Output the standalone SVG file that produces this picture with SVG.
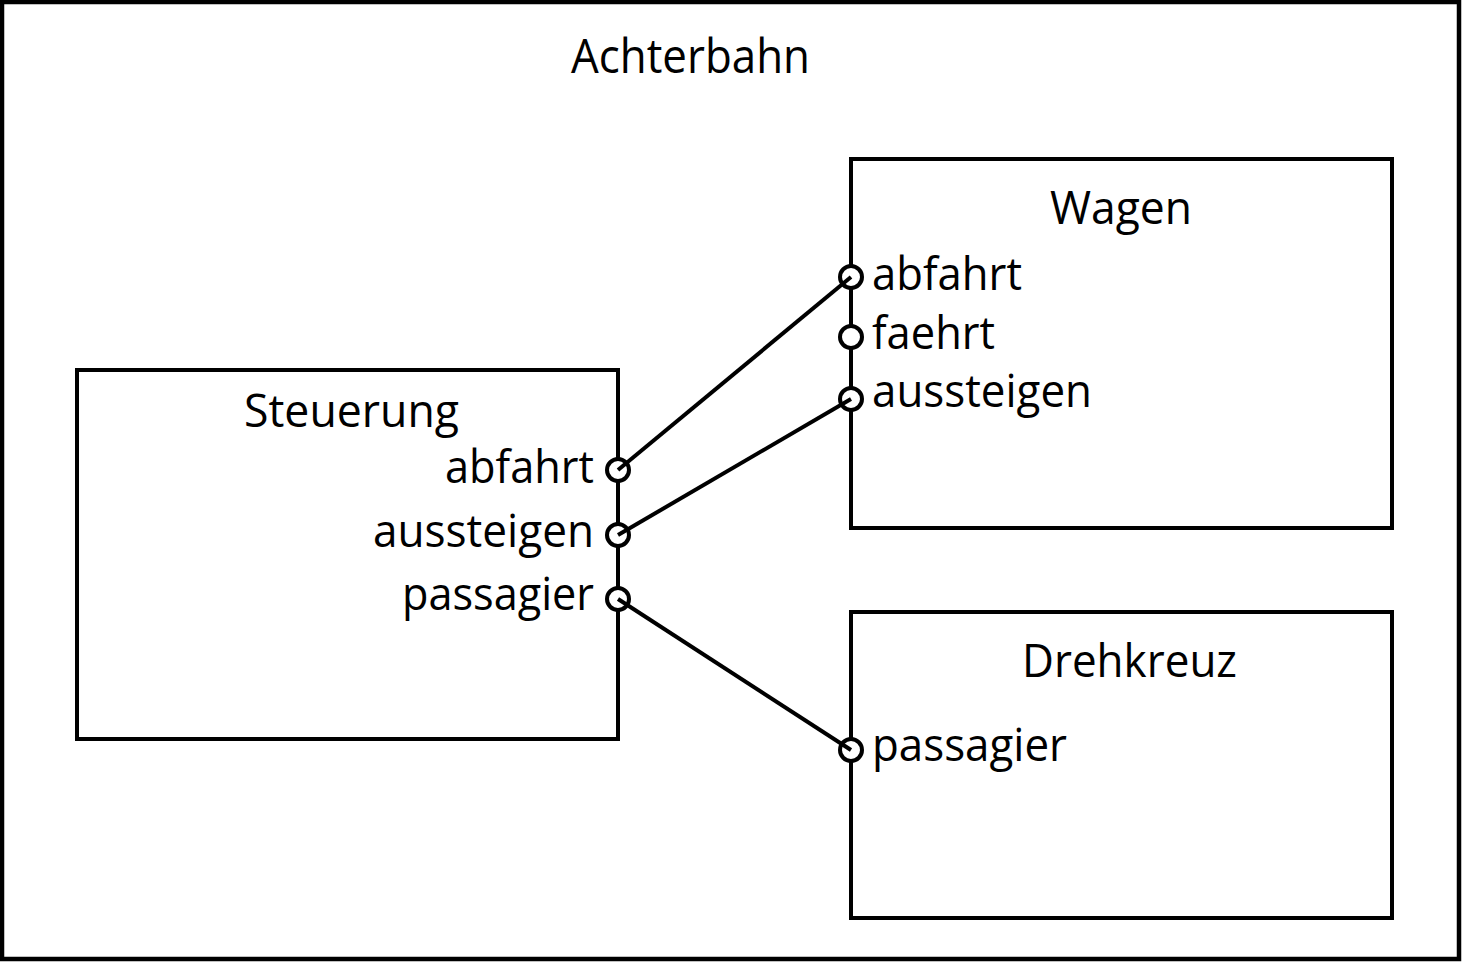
<svg xmlns="http://www.w3.org/2000/svg" width="1463" height="963" viewBox="0 0 1463 963">
<style>
.box{fill:#fff;stroke:#000;stroke-width:4}
.port{fill:#fff;stroke:#000;stroke-width:4}
.conn{stroke:#000;stroke-width:4;fill:none}
text{font-family:"Open Sans","Liberation Sans",sans-serif;font-size:45px;fill:#000}
</style>
<rect width="1463" height="963" fill="#fff"/>
<g id="achterbahn">
<rect x="2" y="2" width="1457" height="957" fill="none" stroke="#000" stroke-width="4.5"/>
<text x="571" y="73" textLength="239" lengthAdjust="spacingAndGlyphs" style="font-size:47px">Achterbahn</text>
</g>
<g id="steuerung">
<rect class="box" x="77" y="370" width="541" height="369"/>
<text x="244" y="427" textLength="215" lengthAdjust="spacingAndGlyphs">Steuerung</text>
<text x="445" y="483" textLength="149" lengthAdjust="spacingAndGlyphs">abfahrt</text>
<text x="373" y="547" textLength="221" lengthAdjust="spacingAndGlyphs">aussteigen</text>
<text x="402" y="610" textLength="192" lengthAdjust="spacingAndGlyphs">passagier</text>
<circle class="port" cx="618" cy="470" r="11"/>
<circle class="port" cx="618" cy="535" r="11"/>
<circle class="port" cx="618" cy="599" r="11"/>
</g>
<g id="wagen">
<rect class="box" x="851" y="159" width="541" height="369"/>
<text x="1050" y="224" textLength="142" lengthAdjust="spacingAndGlyphs">Wagen</text>
<text x="872" y="290" textLength="150" lengthAdjust="spacingAndGlyphs">abfahrt</text>
<text x="872" y="349" textLength="123" lengthAdjust="spacingAndGlyphs">faehrt</text>
<text x="872" y="407" textLength="220" lengthAdjust="spacingAndGlyphs">aussteigen</text>
<circle class="port" cx="851" cy="277" r="11"/>
<circle class="port" cx="851" cy="337" r="11"/>
<circle class="port" cx="851" cy="399" r="11"/>
</g>
<g id="drehkreuz">
<rect class="box" x="851" y="612" width="541" height="306"/>
<text x="1022" y="677" textLength="215" lengthAdjust="spacingAndGlyphs">Drehkreuz</text>
<text x="872" y="761" textLength="195" lengthAdjust="spacingAndGlyphs">passagier</text>
<circle class="port" cx="851" cy="750" r="11"/>
</g>
<g id="connectors">
<line class="conn" x1="618" y1="470" x2="851" y2="277"/>
<line class="conn" x1="618" y1="535" x2="851" y2="399"/>
<line class="conn" x1="618" y1="599" x2="851" y2="750"/>
</g>
</svg>
